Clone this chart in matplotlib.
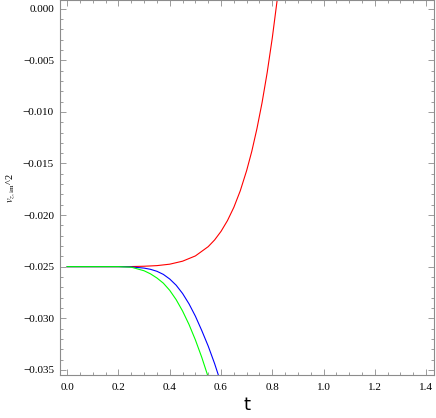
import numpy as np
import matplotlib
matplotlib.use("Agg")
import matplotlib.pyplot as plt
from matplotlib.ticker import MultipleLocator, FuncFormatter

# values (smoothed by eye)
t_red = [0.0, 0.1, 0.2, 0.25, 0.3, 0.35, 0.4, 0.45, 0.5, 0.55, 0.575, 0.6, 0.625, 0.65, 0.675,
         0.7, 0.72, 0.74, 0.76, 0.78, 0.8, 0.82, 0.83]
v_red = [-0.025, -0.025, -0.025, -0.02499, -0.02496, -0.0249, -0.02476, -0.02447, -0.02396, -0.02306,
         -0.02241, -0.02158, -0.02054, -0.01925, -0.01765, -0.01568, -0.01382, -0.01163, -0.00911,
         -0.00619, -0.00282, 0.00104, 0.00318]

t_blue = [0.0, 0.1, 0.2, 0.25, 0.3, 0.325, 0.35, 0.375, 0.4, 0.425, 0.45, 0.475, 0.5, 0.525, 0.55, 0.575, 0.6]
v_blue = [-0.025, -0.025, -0.025, -0.02503, -0.02514, -0.02526, -0.02545, -0.02575, -0.0262, -0.0268,
          -0.0276, -0.0286, -0.0298, -0.0312, -0.0327, -0.0344, -0.0363]

t_green = [0.0, 0.1, 0.2, 0.25, 0.3, 0.325, 0.35, 0.375, 0.4, 0.425, 0.45, 0.475, 0.5, 0.525, 0.55, 0.575]
v_green = [-0.025, -0.025, -0.025, -0.02505, -0.0254, -0.0257, -0.0261, -0.0266, -0.0273, -0.0282,
           -0.0293, -0.0306, -0.0321, -0.0338, -0.0357, -0.0378]

plt.rcParams['mathtext.fontset'] = 'stix'
plt.rcParams['font.family'] = 'Liberation Serif'


def minus_fmt(fmt):
    def f(v, pos):
        if abs(v) < 1e-12:
            v = 0.0
        return (fmt % v).replace('-', '\u2212')
    return FuncFormatter(f)


fig = plt.figure(figsize=(4.36, 4.18), dpi=100)
ax = fig.add_axes([0.1365, 0.1029, 0.8585, 0.896])

ax.plot(t_red, v_red, color=(1, 0, 0), lw=0.8)
ax.plot(t_blue, v_blue, color=(0, 0, 1), lw=0.8)
ax.plot(t_green, v_green, color=(0, 1, 0), lw=0.8)

ax.set_xlim(-0.03, 1.43)
ax.set_ylim(-0.0355, 0.0008)

ax.xaxis.set_major_locator(MultipleLocator(0.2))
ax.xaxis.set_minor_locator(MultipleLocator(0.05))
ax.yaxis.set_major_locator(MultipleLocator(0.005))
ax.yaxis.set_minor_locator(MultipleLocator(0.001))
ax.xaxis.set_major_formatter(minus_fmt('%.1f'))
ax.yaxis.set_major_formatter(minus_fmt('%.3f'))

frame_col = '#8c8c8c'
for s in ax.spines.values():
    s.set_color(frame_col)
    s.set_linewidth(0.8)
ax.tick_params(which='both', direction='in', top=True, right=True, color=frame_col, width=0.6)
ax.tick_params(which='major', length=4, labelsize=8, pad=4)
ax.tick_params(which='minor', length=2)
ax.tick_params(axis='x', which='major', pad=6)

ax.set_xlabel('t', fontsize=13, family='DejaVu Sans', labelpad=3)
ax.set_ylabel(r'$v_{z,\mathrm{im}}$^2', fontsize=7.5, labelpad=4)

fig.savefig('out.png', dpi=100)
